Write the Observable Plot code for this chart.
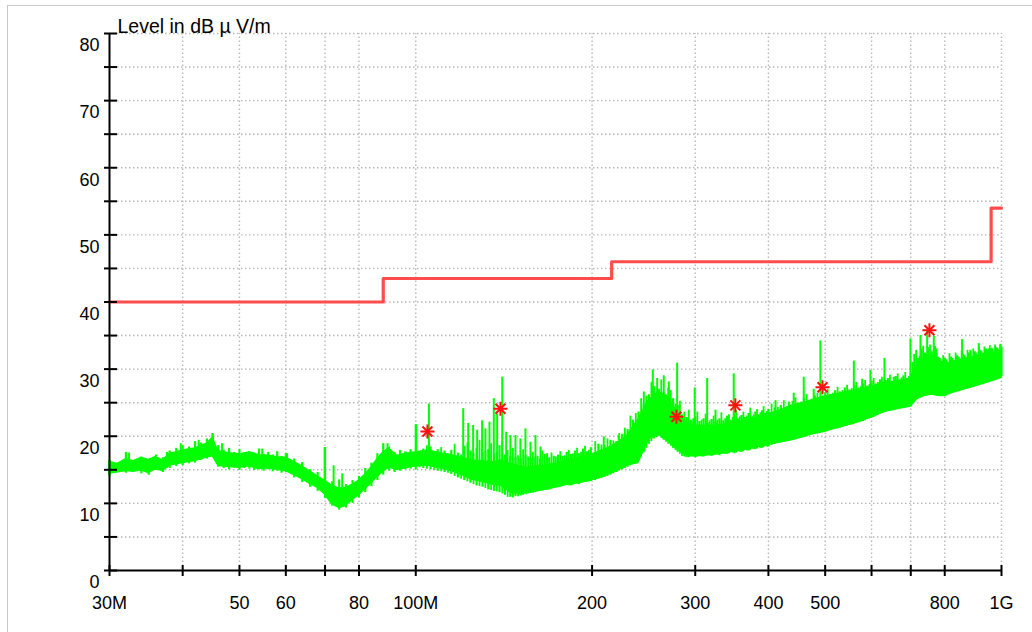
<!DOCTYPE html>
<html><head><meta charset="utf-8">
<script src="https://cdn.jsdelivr.net/npm/d3@7"></script>
<script src="https://cdn.jsdelivr.net/npm/@observablehq/plot@0.6"></script>
<style>
body{margin:0;background:#fff;font-family:"Liberation Sans",Arial,sans-serif;}
#wrap{position:relative;width:1032px;height:632px;overflow:hidden;background:#fff}
#frame{position:absolute;left:7px;top:5px;width:1100px;height:700px;border-left:1.5px solid #c8c8c8;border-top:1.5px solid #c8c8c8;}
#wrap svg{position:absolute;left:0;top:0}
</style></head><body><div id="wrap"><div id="frame"></div></div>
<script>
const title = "Level in dB \u00b5 V/m";

// dense core of the trace (MHz, dBµV/m)
const envFreq = [30,31,32,33,34,35,36,37,38,39,40,42,44,45,46,48,50,52,54,56,58,60,62,64,66,68,70,72,74,76,78,80,82,84,86,88,90,93,96,100,105,110,115,120,125,130,135,140,145,150,155,160,165,170,175,180,190,200,210,220,230,240,250,260,270,280,290,300,320,340,360,380,400,420,440,460,480,500,530,560,600,630,660,700,720,740,760,780,800,820,860,900,940,980,1000];
const envLo = [14.4,14.6,14.8,14.7,14.9,14.5,15.1,14.8,15.6,15.8,16.0,16.3,16.8,17.0,15.6,15.4,15.3,15.5,15.1,15.2,15.0,14.8,14.2,13.6,12.9,12.3,11.3,9.8,9.3,9.6,10.5,11.2,12.1,13.0,13.9,14.7,15.3,15.0,15.2,15.5,15.6,15.2,14.8,14.2,13.5,13.2,12.8,12.6,11.6,11.4,11.5,11.8,12.0,12.2,12.4,12.7,13.0,13.4,14.0,14.8,15.6,16.0,19.5,20.2,19.2,18.0,17.2,17.0,17.2,17.5,17.9,18.3,18.7,19.1,19.4,19.9,20.4,20.7,21.3,21.9,22.8,23.6,24.0,24.4,25.6,26.0,26.2,26.0,26.0,26.4,26.9,27.4,27.9,28.4,28.7];
const envHi = [16.2,15.9,16.6,16.3,16.8,16.5,16.9,16.4,17.4,17.6,17.9,18.2,18.9,19.8,17.8,17.5,17.3,17.6,17.2,17.1,16.9,16.8,16.2,15.5,14.8,14.0,13.4,12.6,12.2,12.3,12.8,13.4,14.3,15.4,16.6,17.6,18.2,17.1,17.4,17.6,17.9,17.5,17.2,16.8,16.4,16.3,16.1,16.4,15.9,15.6,15.3,15.5,15.6,15.8,16.0,16.3,16.8,17.3,18.0,18.9,20.2,22.5,25.4,26.6,25.8,23.5,22.0,21.6,21.5,21.8,22.2,22.6,23.3,23.9,24.6,25.0,25.5,25.9,26.4,26.8,27.4,27.9,28.1,28.6,31.0,31.6,32.0,31.4,30.8,31.0,31.4,31.7,32.0,32.3,32.6];

// sweep noise strokes (MHz, lowest / highest reading)
const noiseFreq = [30,31,32,33,34,35,36,37,38,39,40,41,42,43,44,45,46,47,48,49,50,51,52,53,54,55,56,57,58,59,60,62,64,66,68,70,72,74,76,78,80,82,84,86,88,90,92,94,96,98,100,103,106,109,112,115,118,121,124,127,130,133,136,139,142,145,148,151,154,157,160,163,166,169,172,175,178,181,184,187,190,193,196,199,205,210,215,220,225,230,235,240,245,250,255,260,265,270,275,280,285,290,295,300,305,310,315,320,325,330,335,340,345,350,355,360,365,370,375,380,385,390,395,400,410,420,430,440,450,460,470,480,490,500,510,520,530,540,550,560,570,580,590,600,610,620,630,640,650,660,670,680,690,700,710,720,730,740,750,760,770,780,790,800,810,820,830,840,850,860,870,880,890,900,910,920,930,940,950,960,970,980,990,1000];
const noiseBot = [14.0,14.6,14.5,14.8,14.4,14.2,14.9,14.6,15.2,15.5,15.6,15.9,16.0,16.4,16.6,16.9,15.4,15.2,15.0,15.3,14.9,15.2,15.1,14.9,15.0,14.8,15.0,14.7,14.8,14.5,14.6,13.8,13.1,12.4,11.8,10.7,9.6,9.0,9.3,10.0,10.8,11.6,12.5,13.4,14.2,14.8,14.6,14.8,15.0,15.1,15.0,15.2,15.0,14.8,14.6,14.3,13.8,13.4,13.0,12.6,12.4,12.0,11.8,11.6,11.2,10.9,11.0,11.1,11.3,11.5,11.6,11.8,11.9,12.0,12.3,12.4,12.5,12.7,12.6,12.9,12.8,13.1,13.2,13.3,13.6,13.9,14.2,14.6,15.0,15.4,15.9,16.4,17.6,18.8,19.6,20.0,19.4,18.8,18.2,17.6,17.0,16.8,16.9,16.8,17.0,16.9,17.2,17.0,17.3,17.1,17.4,17.3,17.6,17.4,17.7,17.6,17.9,17.8,18.1,18.0,18.3,18.2,18.5,18.4,18.8,19.0,19.3,19.4,19.7,19.8,20.1,20.3,20.4,20.6,20.9,21.1,21.2,21.5,21.6,21.8,22.0,22.2,22.5,22.7,23.0,23.3,23.5,23.7,23.8,23.9,24.1,24.2,24.3,24.4,25.4,25.6,25.8,26.0,26.1,26.2,26.1,26.0,25.9,25.9,26.2,26.3,26.5,26.6,26.8,26.9,27.1,27.2,27.4,27.5,27.6,27.8,27.9,28.0,28.2,28.3,28.5,28.6,28.8,28.9];
const noiseTop = [16.4,16.0,17.6,16.4,16.9,16.3,17.2,16.8,17.8,18.2,18.6,18.4,19.2,19.0,19.6,20.4,18.6,17.9,18.2,17.6,18.0,17.4,17.7,17.5,18.1,17.3,17.6,17.2,17.7,17.0,17.4,16.6,16.0,15.0,14.6,18.3,13.2,13.5,12.8,13.4,14.0,15.2,16.0,17.4,18.9,18.4,17.6,17.9,17.7,18.0,21.7,18.1,18.4,18.0,17.8,17.9,17.5,18.5,17.8,18.2,17.6,18.0,17.4,18.6,17.2,17.0,16.8,16.6,17.1,16.7,16.9,16.6,17.3,16.8,17.0,17.2,17.0,17.6,17.3,17.8,17.4,18.1,17.7,18.3,18.8,18.6,19.4,19.2,20.3,21.0,22.4,23.6,24.8,26.2,27.4,27.0,26.4,27.2,25.6,24.6,23.2,22.8,22.4,22.9,22.2,22.6,22.0,22.5,22.1,22.6,22.3,23.0,22.4,23.4,22.6,23.1,22.8,23.4,22.9,23.6,23.2,23.8,23.4,24.0,24.2,24.6,24.4,25.2,24.9,25.6,25.3,26.0,25.8,26.5,26.2,26.8,26.6,27.2,26.9,27.6,27.2,27.8,27.5,28.2,27.8,28.4,28.0,28.6,28.2,28.9,28.4,29.0,28.6,29.4,32.2,31.6,33.0,32.4,33.2,32.6,33.4,31.8,31.2,31.6,31.0,31.8,31.3,32.0,31.5,32.2,31.7,32.4,31.9,32.6,32.1,32.8,32.3,33.0,32.5,33.1,32.6,33.2,32.8,33.3];

// second pass of sweep noise strokes above 100 MHz
const noise2Freq = [101.5,104.5,107.5,110.5,113.5,116.5,119.5,122.5,125.5,128.5,131.5,134.5,137.5,140.5,143.5,146.5,149.5,152.5,155.5,158.5,161.5,164.5,167.5,170.5,173.5,176.5,179.5,182.5,185.5,188.5,191.5,194.5,197.5,202.5,207.5,212.5,217.5,222.5,227.5,232.5,237.5,242.5,247.5,252.5,257.5,262.5,267.5,272.5,277.5,282.5,287.5,292.5,297.5,302.5,307.5,312.5,317.5,322.5,327.5,332.5,337.5,342.5,347.5,352.5,357.5,362.5,367.5,372.5,377.5,382.5,387.5,392.5,397.5,405,415,425,435,445,455,465,475,485,495,505,515,525,535,545,555,565,575,585,595,605,615,625,635,645,655,665,675,685,695,705,715,725,735,745,755,765,775,785,795,805,815,825,835,845,855,865,875,885,895,905,915,925,935,945,955,965,975,985,995];
const noise2Bot = [15.3,15.1,14.9,14.7,14.5,14.0,13.6,13.2,12.8,12.5,12.2,11.9,11.7,11.4,10.9,10.8,11.0,11.2,11.4,11.5,11.7,11.8,11.9,12.1,12.3,12.4,12.6,12.6,12.7,12.9,13.0,13.1,13.2,13.4,13.7,14.0,14.4,14.8,15.2,15.6,16.1,17.0,18.2,19.2,19.8,19.7,19.1,18.5,17.9,17.3,16.9,16.8,16.9,16.9,16.9,17.0,17.1,17.1,17.2,17.3,17.3,17.4,17.5,17.5,17.6,17.7,17.8,17.9,18.0,18.1,18.2,18.3,18.4,18.6,18.9,19.1,19.3,19.5,19.7,19.9,20.2,20.3,20.5,20.7,21.0,21.1,21.3,21.5,21.7,21.9,22.1,22.3,22.6,22.8,23.1,23.4,23.6,23.7,23.8,24.0,24.1,24.2,24.3,24.8,25.5,25.7,25.9,26.0,26.1,26.1,26.0,25.9,25.9,26.0,26.2,26.4,26.5,26.7,26.8,27.0,27.1,27.3,27.4,27.5,27.7,27.8,27.9,28.1,28.2,28.4,28.5,28.7,28.8];
const noise2Top = [17.4,18.6,17.6,18.3,17.4,18.8,17.2,19.0,17.4,19.4,17.8,18.9,17.6,19.2,17.9,18.2,17.1,18.0,16.9,17.6,17.0,17.8,16.9,17.5,16.9,17.7,17.1,17.9,17.4,18.2,17.6,18.5,17.9,19.2,18.7,19.6,19.3,20.4,21.2,23.0,23.4,25.6,26.0,28.0,26.6,28.4,26.2,26.8,24.8,25.2,23.6,23.9,22.6,23.6,22.4,23.3,22.3,23.0,22.4,23.5,22.6,23.2,22.8,23.8,22.9,23.6,23.0,24.2,23.2,24.0,23.5,24.4,23.7,24.8,24.3,25.3,24.7,25.7,25.1,26.2,25.5,26.4,26.0,27.0,26.4,27.3,26.8,27.6,27.1,28.0,27.4,28.3,27.7,28.6,28.0,28.8,28.3,29.1,28.5,29.3,28.7,29.5,28.9,31.0,32.8,31.9,33.4,32.2,33.6,32.4,33.0,31.6,32.0,31.4,32.3,31.6,32.4,31.8,32.7,32.0,32.8,32.2,33.0,32.4,33.2,32.6,33.3,32.8,33.5,33.0,33.6,33.1,33.5];

// narrow emission spikes (MHz, peak dBµV/m)
const spikeFreq = [32.4,35.7,37.6,39.7,42.6,45.0,46.7,52.6,54.7,60.3,64.0,69.9,72.4,74.9,89.5,100.2,105.3,120.5,122.9,125.3,127.3,129.8,131.5,133.6,135.9,137.7,140.5,142.7,145.1,148.0,150.9,153.9,157.0,160.1,163.3,167.6,209.4,222.1,245.1,253.9,258.3,265.1,270.4,279.4,299.4,314.4,324.9,349.0,411.4,433.3,441.9,459.6,478.0,490.7,559.6,578.3,597.4,631.2,654.9,699.1,727.2,746.6,766.3,856.6,884.9,914.5,932.6,951.0,995.7];
const spikeTop = [17.5,16.9,17.6,18.9,19.4,20.4,18.9,17.6,18.1,17.4,16.1,18.3,15.6,14.4,18.9,21.7,24.8,24.1,21.9,21.6,20.9,22.3,21.1,22.1,25.6,23.3,28.8,20.6,20.1,20.1,19.6,21.1,19.1,20.1,18.4,17.4,19.9,20.1,26.6,29.9,28.6,29.0,28.1,30.9,27.2,28.6,23.9,29.3,25.3,25.1,26.4,28.8,27.0,34.2,31.2,28.5,29.8,31.6,28.8,34.5,35.0,35.8,34.9,34.4,32.8,33.8,32.3,33.0,33.7];

// limit line
const limitFreq = [30, 88, 216, 960, 1000];
const limitLevel = [40, 43.5, 46, 54, 54];

// final measurement markers
const markerFreq = [104.7, 139.5, 278.7, 351.3, 494.8, 753.3];
const markerLevel = [20.7, 24.1, 22.9, 24.6, 27.3, 35.8];

// axes
const yTicks = [0,5,10,15,20,25,30,35,40,45,50,55,60,65,70,75,80];
const yLabels = [0,10,20,30,40,50,60,70,80];
const xTicks = [30,40,50,60,70,80,100,200,300,400,500,600,700,800,1000];
const xLabelVals = [30,50,60,80,100,200,300,400,500,800,1000];
const xLabelText = ["30M","50","60","80","100M","200","300","400","500","800","1G"];

function envLoAt(f) {
  const i = Math.min(Math.max(d3.bisectRight(envFreq, f), 1), envFreq.length - 1);
  const a = Math.log(envFreq[i-1]), b = Math.log(envFreq[i]);
  const t = (Math.log(f) - a) / (b - a);
  return envLo[i-1] + t * (envLo[i] - envLo[i-1]);
}

const grid = {stroke:"#b8b8b8", strokeDasharray:"1.5,2.5", strokeWidth:1.4};
const green = "#00ff00";

const chart = Plot.plot({
  width:1032, height:632,
  marginLeft:109, marginRight:31, marginTop:33, marginBottom:62,
  x:{type:"log", domain:[30,1000]},
  y:{domain:[0,80]},
  style:{fontFamily:"'Liberation Sans', Arial, sans-serif", fontSize:"18px", background:"transparent", color:"black"},
  marks:[
    Plot.ruleY(yTicks.filter(v => v > 0), grid),
    Plot.ruleX(xTicks.filter(v => v > 30), {...grid, y1:0, y2:80}),
    Plot.areaY(envFreq, {x:d => d, y1:(d,i) => envLo[i], y2:(d,i) => envHi[i], fill:green, stroke:green, strokeWidth:1.2}),
    Plot.ruleX(noiseFreq, {x:d => d, y1:(d,i) => noiseBot[i], y2:(d,i) => noiseTop[i], stroke:green, strokeWidth:2.2}),
    Plot.ruleX(noise2Freq, {x:d => d, y1:(d,i) => noise2Bot[i], y2:(d,i) => noise2Top[i], stroke:green, strokeWidth:1.8}),
    Plot.ruleX(spikeFreq, {x:d => d, y1:d => envLoAt(d), y2:(d,i) => spikeTop[i], stroke:green, strokeWidth:2}),
    Plot.line(limitFreq, {x:d => d, y:(d,i) => limitLevel[i], curve:"step-after", stroke:"#ff4d4d", strokeWidth:3.2}),
    Plot.dot(markerFreq, {x:d => d, y:(d,i) => markerLevel[i], symbol:"plus", r:4.6, stroke:"#ff1010", strokeWidth:2}),
    Plot.dot(markerFreq, {x:d => d, y:(d,i) => markerLevel[i], symbol:"times", r:4.6, stroke:"#ff1010", strokeWidth:2}),
    Plot.ruleX([30], {y1:0, y2:80, stroke:"black", strokeWidth:2}),
    Plot.ruleY([0], {stroke:"black", strokeWidth:2}),
    Plot.axisY(yTicks, {tickSize:5, tickFormat:() => "", strokeWidth:2}),
    Plot.axisY(yTicks, {tickSize:8, dx:8, tickFormat:() => "", strokeWidth:2}),
    Plot.axisX(xTicks, {anchor:"bottom", tickSize:6, tickFormat:() => "", strokeWidth:2}),
    Plot.axisX(xTicks, {anchor:"bottom", tickSize:5, dy:-5, tickFormat:() => "", strokeWidth:2}),
    Plot.text(yLabels, {y:d => d, text:d => String(d), frameAnchor:"left", textAnchor:"end", dx:-10, dy:12, fontSize:18, fill:"black"}),
    Plot.text(xLabelVals, {x:d => d, text:(d,i) => xLabelText[i], frameAnchor:"bottom", dy:38, fontSize:18, fill:"black"}),
    Plot.text([title], {frameAnchor:"top-left", dx:8, dy:-14, textAnchor:"start", fontSize:19.5, fill:"black"})
  ]
});
document.getElementById("wrap").appendChild(chart);
</script>
</body></html>
